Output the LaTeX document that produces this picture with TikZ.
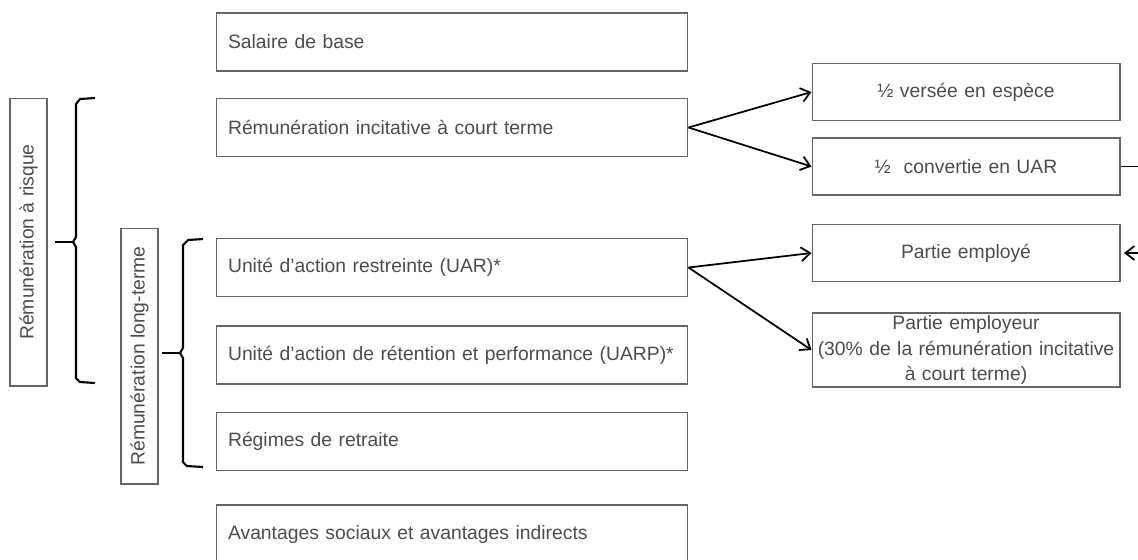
\documentclass[tikz,border=0pt]{standalone}
\usepackage{fontspec}
\setmainfont{Liberation Sans}
\usetikzlibrary{arrows.meta,positioning}
\definecolor{remline}{rgb}{0.40,0.40,0.40}
\definecolor{remtext}{rgb}{0.30,0.30,0.30}

\begin{document}
\begin{tikzpicture}[
  x=0.02cm, y=-0.02cm,
  font=\fontsize{11}{14.5}\selectfont,
  item/.style={draw=remline, line width=0.6pt, text=remtext,
               text width=8.96cm, inner xsep=0.24cm, inner ysep=0pt,
               minimum height=1.16cm, align=left},
  part/.style={draw=remline, line width=0.6pt, text=remtext,
               text width=6cm, inner xsep=0.08cm, inner ysep=0pt,
               minimum height=1.14cm, align=center},
  side/.style={draw=remline, line width=0.6pt, text=remtext, rotate=90,
               minimum height=0.74cm, inner sep=0pt},
  arr/.style={-{Straight Barb[length=1.8mm,width=2.8mm]}, line width=1pt, black},
  brc/.style={line width=1.2pt, black}
]
\useasboundingbox (0,0) rectangle (1138,559);
\clip (0,0) rectangle (1138,559);

% --- elements (middle column) ---
\node[item] (base)     at (452,42)    {Salaire de base};
\node[item] (incit)    at (452,127.5) {Rémunération incitative à court terme};
\node[item] (uar)      at (452,267.5) {Unité d'action restreinte (UAR)*};
\node[item] (uarp)     at (452,355)   {Unité d'action de rétention et performance (UARP)*};
\node[item] (retraite) at (452,441.5) {Régimes de retraite};
\node[item] (avant)    at (452,534)   {Avantages sociaux et avantages indirects};

% --- groupings (left) ---
\node[side, minimum width=5.76cm] (risque) at (28.5,242)  {Rémunération à risque};
\node[side, minimum width=5.12cm] (longt)  at (139.5,356) {Rémunération long-terme};

\draw[brc] (95,98) -- (80,99) -- (76,104) -- (76,237) -- (73,242) -- (76,247)
  -- (76,378) -- (80,382) -- (95,383);
\draw[brc] (55,242) -- (73,242);

\draw[brc] (203,239) -- (188,240) -- (183,245) -- (183,348) -- (180,353) -- (183,358)
  -- (183,462) -- (187,466) -- (203,467);
\draw[brc] (162,353) -- (180,353);

% --- split (right) ---
\node[part] (versee)  at (966,92)    {½ versée en espèce};
\node[part] (convert) at (966,166.5) {½\ \ convertie en UAR};
\node[part] (employe) at (966,253)   {Partie employé};
\node[part, minimum height=1.48cm] (employr) at (966,350)
  {Partie employeur\\(30\% de la rémunération incitative\\à court terme)};

\draw[arr] (incit.east) -- (versee.west);
\draw[arr] (incit.east) -- (convert.west);
\draw[arr] (uar.east) -- (employe.west);
\draw[arr] (uar.east) -- (employr.west);

\coordinate (outA) at (1142,166.5);
\coordinate (outB) at (1142,253);
\draw[line width=1pt] (convert.east) -- (outA);
\draw[arr, shorten >=2pt] (outB) -- (employe.east);

\end{tikzpicture}
\end{document}
